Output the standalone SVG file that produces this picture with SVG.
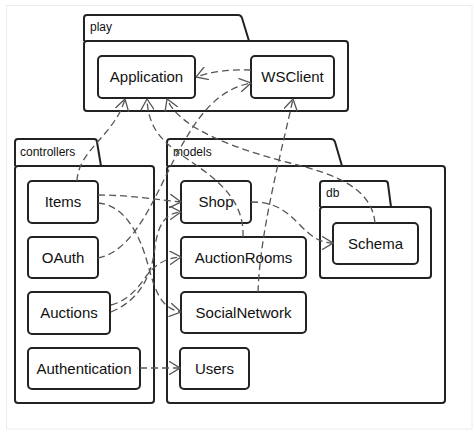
<svg xmlns="http://www.w3.org/2000/svg" width="474" height="432" viewBox="0 0 474 432">
<style>
.pkg{fill:#fff;stroke:#222;stroke-width:2;stroke-linejoin:round}
.node{fill:#fff;stroke:#222;stroke-width:2}
.lbl{font-family:"Liberation Sans",Arial,sans-serif;font-size:15px;fill:#111;text-anchor:middle}
.plbl{font-family:"Liberation Sans",Arial,sans-serif;font-size:12px;fill:#111}
.dep{fill:none;stroke:#555;stroke-width:1.3;stroke-dasharray:7,4;marker-end:url(#open)}
</style>
<defs>
<marker id="open" markerUnits="userSpaceOnUse" viewBox="0 0 12 14" refX="11.5" refY="7" markerWidth="12" markerHeight="14" orient="auto">
<path d="M0,0 L11.5,7 L0,14" fill="none" stroke="#555" stroke-width="1.3"/>
</marker>
</defs>
<rect x="0" y="0" width="474" height="432" fill="#fff"/>
<rect x="6.5" y="5.5" width="465.5" height="423.5" fill="none" stroke="#ececec" stroke-width="1"/>

<g id="pkg-play">
<path class="pkg" d="M84,41 V18 Q84,15 87,15 H238 Q241,15 242,18 L249,41"/>
<rect class="pkg" x="84" y="41" width="264" height="70" rx="3"/>
<text class="plbl" x="90" y="31">play</text>
</g>
<g id="pkg-controllers">
<path class="pkg" d="M15,166 V142 Q15,139 18,139 H94 Q97,139 97,142 L101,166"/>
<rect class="pkg" x="15" y="166" width="139" height="237" rx="3"/>
<text class="plbl" x="20" y="156">controllers</text>
</g>
<g id="pkg-models">
<path class="pkg" d="M167,166 V142 Q167,139 170,139 H331 Q334,139 335,142 L342,166"/>
<rect class="pkg" x="167" y="166" width="278" height="237" rx="3"/>
<text class="plbl" x="173" y="156">models</text>
</g>
<g id="pkg-db">
<path class="pkg" d="M320,207 V184 Q320,181 323,181 H385 Q388,181 388,184 L391,207"/>
<rect class="pkg" x="320" y="207" width="111" height="71" rx="3"/>
<text class="plbl" x="326" y="197">db</text>
</g>

<g id="Application"><rect class="node" x="98" y="56" width="97" height="42" rx="4"/><text class="lbl" x="146.5" y="82">Application</text></g>
<g id="WSClient"><rect class="node" x="251" y="56" width="83" height="42" rx="4"/><text class="lbl" x="292.5" y="82">WSClient</text></g>
<g id="Items"><rect class="node" x="28" y="181" width="70" height="42" rx="4"/><text class="lbl" x="63" y="207">Items</text></g>
<g id="OAuth"><rect class="node" x="28" y="237" width="70" height="41" rx="4"/><text class="lbl" x="63" y="262.5">OAuth</text></g>
<g id="Auctions"><rect class="node" x="28" y="292" width="82" height="42" rx="4"/><text class="lbl" x="69" y="318">Auctions</text></g>
<g id="Authentication"><rect class="node" x="28" y="348" width="112" height="41" rx="4"/><text class="lbl" x="84" y="373.5">Authentication</text></g>
<g id="Shop"><rect class="node" x="181" y="181" width="70" height="42" rx="4"/><text class="lbl" x="216" y="207">Shop</text></g>
<g id="AuctionRooms"><rect class="node" x="181" y="237" width="125" height="41" rx="4"/><text class="lbl" x="243.5" y="262.5">AuctionRooms</text></g>
<g id="SocialNetwork"><rect class="node" x="181" y="292" width="125" height="41" rx="4"/><text class="lbl" x="243.5" y="317.5">SocialNetwork</text></g>
<g id="Users"><rect class="node" x="180" y="348" width="69" height="41" rx="4"/><text class="lbl" x="214.5" y="373.5">Users</text></g>
<g id="Schema"><rect class="node" x="333" y="223" width="85" height="41" rx="4"/><text class="lbl" x="375.5" y="248.5">Schema</text></g>

<g id="connectors">
<path class="dep" d="M251,70 C230,69 210,72 196,77"/>
<path class="dep" d="M98,258 C140,250 160,180 185,140 C205,105 225,88 251,83"/>
<path class="dep" d="M77,181 C78,150 115,135 125,99"/>
<path class="dep" d="M243,237 C245,190 200,170 175,150 C155,135 148,120 147,99"/>
<path class="dep" d="M375,223 C372,190 340,175 290,163 C240,150 180,130 167,99"/>
<path class="dep" d="M258,292 C260,230 282,150 293,99"/>
<path class="dep" d="M98,195 C130,195 160,200 181,202"/>
<path class="dep" d="M98,203 C125,205 140,235 148,265 C155,290 160,308 181,312"/>
<path class="dep" d="M111,312 C140,300 152,275 155,247 C158,225 165,213 181,212"/>
<path class="dep" d="M111,305 C130,300 140,285 147,275 C155,265 165,258 181,257"/>
<path class="dep" d="M251,202 C275,202 285,210 300,225 C312,238 322,243 333,243"/>
<path class="dep" d="M140,368 L180,368"/>
</g>
</svg>
